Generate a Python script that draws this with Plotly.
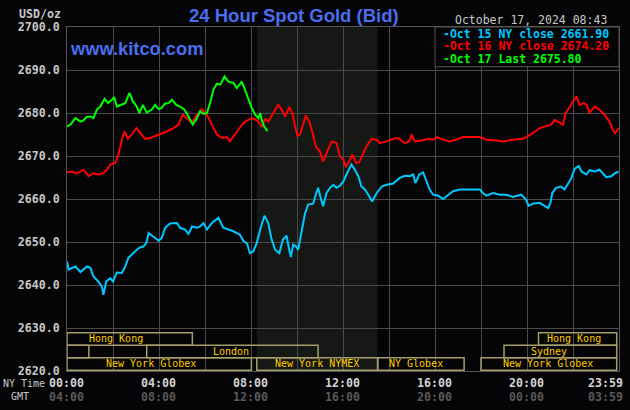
import plotly.graph_objects as go

# ---------------- data (minutes after midnight NY time, price) ----------------
oct15_t = [0, 4, 22, 35, 52, 61, 69, 82, 91, 95, 102, 113, 120, 130, 143, 152, 160, 173, 187, 200,
           207, 213, 226, 239, 247, 256, 269, 287, 295, 308, 317, 326, 339, 347, 356, 365, 378, 395,
           408, 421, 434, 451, 460, 470, 477, 486, 495, 504, 515, 525, 534, 543, 554, 563, 573, 577,
           584, 590, 597, 603, 612, 621, 629, 642, 649, 655, 662, 668, 677, 686, 695, 703, 712, 721,
           729, 742, 751, 760, 768, 777, 786, 796, 808, 821, 834, 851, 868, 881, 894, 903, 909, 919,
           929, 936, 946, 955, 968, 981, 994, 1007, 1025, 1077, 1085, 1094, 1111, 1129, 1146, 1163,
           1185, 1198, 1204, 1215, 1233, 1246, 1255, 1261, 1266, 1276, 1289, 1298, 1307, 1316, 1324,
           1335, 1342, 1355, 1363, 1376, 1389, 1398, 1407, 1420, 1428, 1439]
oct15_v = [2645.5, 2643.6, 2644.3, 2643.0, 2644.3, 2644.0, 2642.0, 2640.8, 2639.7, 2637.7, 2640.8,
           2641.6, 2640.8, 2642.9, 2642.8, 2644.3, 2646.3, 2647.4, 2648.6, 2649.0, 2649.8, 2652.1,
           2651.3, 2650.3, 2650.9, 2653.3, 2654.3, 2654.4, 2653.3, 2652.9, 2651.9, 2653.6, 2653.3,
           2653.6, 2654.4, 2652.9, 2654.4, 2655.6, 2653.3, 2652.9, 2652.5, 2651.7, 2650.3, 2649.6,
           2647.4, 2647.8, 2649.8, 2652.9, 2656.1, 2654.4, 2650.5, 2648.2, 2647.4, 2650.5, 2651.5,
           2649.4, 2646.5, 2649.4, 2649.0, 2648.2, 2652.1, 2656.7, 2658.7, 2658.9, 2661.0, 2662.6,
           2660.2, 2658.3, 2661.4, 2662.6, 2663.3, 2662.6, 2663.1, 2664.1, 2665.7, 2668.0, 2666.8,
           2665.3, 2662.9, 2662.2, 2661.0, 2659.4, 2661.4, 2662.9, 2663.3, 2663.6, 2664.9, 2665.4,
           2665.3, 2665.7, 2663.7, 2665.7, 2666.2, 2664.5, 2662.2, 2661.0, 2660.8, 2660.0, 2660.8,
           2661.8, 2662.2, 2662.2, 2661.4, 2660.8, 2661.4, 2661.0, 2661.0, 2660.5, 2661.0, 2659.8,
           2658.4, 2658.9, 2659.1, 2658.4, 2657.9, 2659.1, 2661.4, 2662.6, 2662.9, 2662.2, 2663.6,
           2664.9, 2667.0, 2667.7, 2666.4, 2665.7, 2666.7, 2666.4, 2666.8, 2666.0, 2665.1, 2665.3,
           2665.9, 2666.4]

oct16_t = [0, 13, 26, 43, 56, 69, 82, 95, 104, 113, 126, 134, 143, 150, 159, 169, 181, 191, 204,
           217, 230, 243, 260, 278, 291, 302, 313, 326, 339, 352, 365, 378, 391, 404, 417, 425, 434,
           447, 460, 473, 486, 499, 508, 517, 525, 538, 551, 560, 569, 580, 589, 595, 601, 608, 616,
           623, 632, 641, 649, 660, 668, 679, 690, 703, 712, 721, 728, 734, 745, 754, 762, 771, 781,
           795, 808, 816, 834, 851, 864, 881, 892, 899, 907, 925, 942, 955, 965, 981, 998, 1016, 1033,
           1077, 1094, 1120, 1137, 1163, 1189, 1202, 1215, 1233, 1250, 1263, 1272, 1281, 1294, 1301,
           1311, 1320, 1329, 1337, 1348, 1356, 1363, 1376, 1389, 1402, 1415, 1424, 1430, 1439]
oct16_v = [2666.2, 2666.4, 2665.9, 2666.8, 2665.3, 2666.0, 2665.7, 2666.0, 2666.8, 2668.0, 2668.4,
           2670.3, 2673.8, 2675.7, 2674.0, 2675.0, 2676.5, 2675.3, 2674.0, 2674.2, 2674.6, 2675.0,
           2675.7, 2676.5, 2677.3, 2679.6, 2678.8, 2677.7, 2679.6, 2680.9, 2679.6, 2677.3, 2675.0,
           2674.2, 2674.4, 2673.4, 2674.6, 2676.1, 2677.7, 2678.4, 2678.8, 2678.0, 2676.9, 2678.6,
           2678.0, 2680.0, 2681.9, 2680.8, 2679.2, 2681.4, 2679.6, 2676.9, 2674.7, 2675.0, 2677.7,
           2679.4, 2678.0, 2675.3, 2672.2, 2671.1, 2668.7, 2671.1, 2673.4, 2673.0, 2669.9, 2669.1,
           2667.4, 2668.4, 2670.3, 2668.4, 2668.5, 2670.3, 2672.2, 2674.0, 2673.8, 2673.0, 2673.4,
           2674.0, 2674.2, 2673.0, 2673.4, 2675.0, 2673.4, 2673.6, 2674.0, 2673.8, 2674.4, 2673.8,
           2673.4, 2673.8, 2674.4, 2674.4, 2673.8, 2673.6, 2673.4, 2673.8, 2674.0, 2674.6, 2675.3,
           2676.5, 2676.9, 2677.3, 2678.4, 2678.0, 2677.3, 2680.0, 2681.5, 2682.7, 2683.9, 2681.9,
           2682.3, 2681.9, 2680.0, 2681.5, 2680.8, 2679.6, 2678.0, 2676.1, 2675.3, 2676.5]

oct17_t = [0, 9, 22, 35, 43, 52, 61, 69, 78, 87, 98, 107, 117, 123, 130, 143, 152, 163, 172, 182,
           189, 198, 208, 221, 230, 239, 247, 256, 265, 274, 285, 295, 306, 317, 328, 339, 347, 356,
           365, 373, 382, 391, 400, 411, 421, 434, 443, 456, 464, 473, 482, 491, 499, 504, 508, 514,
           523]
oct17_v = [2676.9, 2677.3, 2678.8, 2678.0, 2678.3, 2679.1, 2679.2, 2678.8, 2680.8, 2681.5, 2683.3,
           2682.3, 2683.1, 2683.7, 2681.5, 2681.9, 2682.3, 2684.7, 2682.7, 2681.5, 2680.0, 2681.9,
           2680.1, 2680.8, 2681.9, 2680.9, 2681.2, 2682.2, 2682.3, 2683.1, 2681.9, 2681.5, 2680.8,
           2679.2, 2677.3, 2678.8, 2680.4, 2679.8, 2680.0, 2682.3, 2685.4, 2686.8, 2686.6, 2688.5,
           2687.3, 2687.0, 2685.8, 2687.3, 2685.4, 2683.1, 2681.2, 2679.6, 2678.8, 2680.0, 2678.4,
           2676.9, 2675.8]

legend_texts = ["-Oct 15 NY close 2661.90", "-Oct 16 NY close 2674.20", "-Oct 17 Last 2675.80"]
series_colors = ["#00c8ff", "#ff0000", "#00ff00"]

ny_ticks = [0, 240, 480, 720, 960, 1200, 1439]
ny_labels = ["00:00", "04:00", "08:00", "12:00", "16:00", "20:00", "23:59"]
gmt_labels = ["04:00", "08:00", "12:00", "16:00", "20:00", "00:00", "03:59"]

# market sessions: (label, start, end, row, label centre)  row 0 = top
sessions = [
    ("Hong Kong", 0, 327, 0, 127),
    ("Hong Kong", 1230, 1434, 0, 1322),
    ("", 0, 57, 1, None),
    ("London", 208, 655, 1, 428),
    ("Sydney", 1140, 1434, 1, 1257),
    ("New York Globex", 0, 481, 2, 218),
    ("New York NYMEX", 495, 810, 2, 653),
    ("NY Globex", 811, 1036, 2, 911),
    ("New York Globex", 1080, 1434, 2, 1256),
]
row_edges = [2628.9, 2626.0, 2623.1, 2620.2]
nymex_hours = (495, 810)

# ---------------- figure ----------------
W, H = 630, 410
ML, MR, MT, MB = 67, 11, 27, 39
PW, PH = W - ML - MR, H - MT - MB


def X(px):
    return (px - ML) / PW


def Y(py):
    return 1 - (py - MT) / PH


MONO = "DejaVu Sans Mono"
SANS = "Liberation Sans"
BG = "#050507"

fig = go.Figure()
for t, v, c in zip([oct15_t, oct16_t, oct17_t], [oct15_v, oct16_v, oct17_v], series_colors):
    fig.add_trace(go.Scatter(x=t, y=v, mode="lines", line=dict(color=c, width=2),
                             hoverinfo="skip", showlegend=False))

shapes = []
shapes.append(dict(type="rect", xref="x", yref="paper", x0=nymex_hours[0], x1=nymex_hours[1],
                   y0=0, y1=1, fillcolor="#151815", line=dict(width=0), layer="below"))
for label, s, e, row, c in sessions:
    shapes.append(dict(type="rect", xref="x", yref="y", x0=s, x1=e,
                       y0=row_edges[row + 1], y1=row_edges[row],
                       line=dict(color="#a39d6a", width=1.5), fillcolor="rgba(0,0,0,0)"))
# legend box
shapes.append(dict(type="rect", xref="x", yref="paper", x0=960, x1=1440, y0=Y(66.7), y1=1,
                   fillcolor=BG, line=dict(color="#555555", width=1), layer="above"))

ann = []
ann.append(dict(text="24 Hour Spot Gold (Bid)", x=X(293.8), y=Y(16), xref="paper", yref="paper",
                xanchor="center", yanchor="middle", showarrow=False,
                font=dict(family=SANS, size=18.5, color="#4b6ef0", weight="bold")))
ann.append(dict(text="www.kitco.com", x=X(67.5), y=Y(48), xref="paper", yref="paper",
                xanchor="left", yanchor="middle", showarrow=False,
                font=dict(family=SANS, size=18.3, color="#4b6ef0", weight="bold")))
ann.append(dict(text="October 17, 2024 08:43", x=X(453.5), y=Y(20), xref="paper", yref="paper",
                xanchor="left", yanchor="middle", showarrow=False, borderpad=0,
                font=dict(family=MONO, size=11.5, color="#c8c8c8")))
ann.append(dict(text="USD/oz", x=X(62), y=Y(13.5), xref="paper", yref="paper",
                xanchor="right", yanchor="middle", showarrow=False, borderpad=0,
                font=dict(family=MONO, size=11.6, color="#c8c8c8", weight="bold")))
for i, (txt, col) in enumerate(zip(legend_texts, series_colors)):
    ann.append(dict(text=txt, x=X(441.5), y=Y([34, 46, 59][i]), xref="paper", yref="paper",
                    xanchor="left", yanchor="middle", showarrow=False, borderpad=0,
                    font=dict(family=MONO, size=11.5, color=col, weight="bold")))
for label, s, e, row, c in sessions:
    if label:
        ann.append(dict(text=label, x=c, y=(row_edges[row] + row_edges[row + 1]) / 2,
                        xref="x", yref="y", xanchor="center", yanchor="middle", showarrow=False,
                        borderpad=0, font=dict(family=MONO, size=10, color="#ffcc00")))
for t, a, b in zip(ny_ticks, ny_labels, gmt_labels):
    xa = "right" if t == ny_ticks[-1] else "center"
    sh = 5 if t == ny_ticks[-1] else -1
    ann.append(dict(text=a, x=t, y=Y(383), xref="x", yref="paper", xanchor=xa, xshift=sh,
                    yanchor="middle", showarrow=False, borderpad=0,
                    font=dict(family=MONO, size=11.6, color="#d4d4d4", weight="bold")))
    ann.append(dict(text=b, x=t, y=Y(397), xref="x", yref="paper", xanchor=xa, xshift=sh,
                    yanchor="middle", showarrow=False, borderpad=0,
                    font=dict(family=MONO, size=11.6, color="#5a5a5a", weight="bold")))
ann.append(dict(text="NY Time", x=X(2), y=Y(383), xref="paper", yref="paper", xanchor="left",
                yanchor="middle", showarrow=False, borderpad=0,
                font=dict(family=MONO, size=10, color="#c8c8c8")))
ann.append(dict(text="GMT", x=X(10), y=Y(397), xref="paper", yref="paper", xanchor="left",
                yanchor="middle", showarrow=False, borderpad=0,
                font=dict(family=MONO, size=10, color="#c8c8c8")))

fig.update_layout(
    width=W, height=H, margin=dict(l=ML, r=MR, t=MT, b=MB, pad=0),
    paper_bgcolor=BG, plot_bgcolor=BG, showlegend=False,
    shapes=shapes, annotations=ann,
    xaxis=dict(range=[0, 1440], tick0=0, dtick=120, showgrid=True, gridcolor="#4a4a4a",
               gridwidth=1, showticklabels=False, ticks="", zeroline=False,
               showline=True, mirror=True, linecolor="#555555", linewidth=1, fixedrange=True),
    yaxis=dict(range=[2620, 2700], tick0=2620, dtick=10, tickformat=".1f", showgrid=True,
               gridcolor="#4a4a4a", gridwidth=1, ticks="", zeroline=False,
               showline=True, mirror=True, linecolor="#555555", linewidth=1,
               ticklabelstandoff=4, fixedrange=True,
               tickfont=dict(family=MONO, size=11.6, color="#c8c8c8", weight="bold")),
)

fig.write_html("out.html")
